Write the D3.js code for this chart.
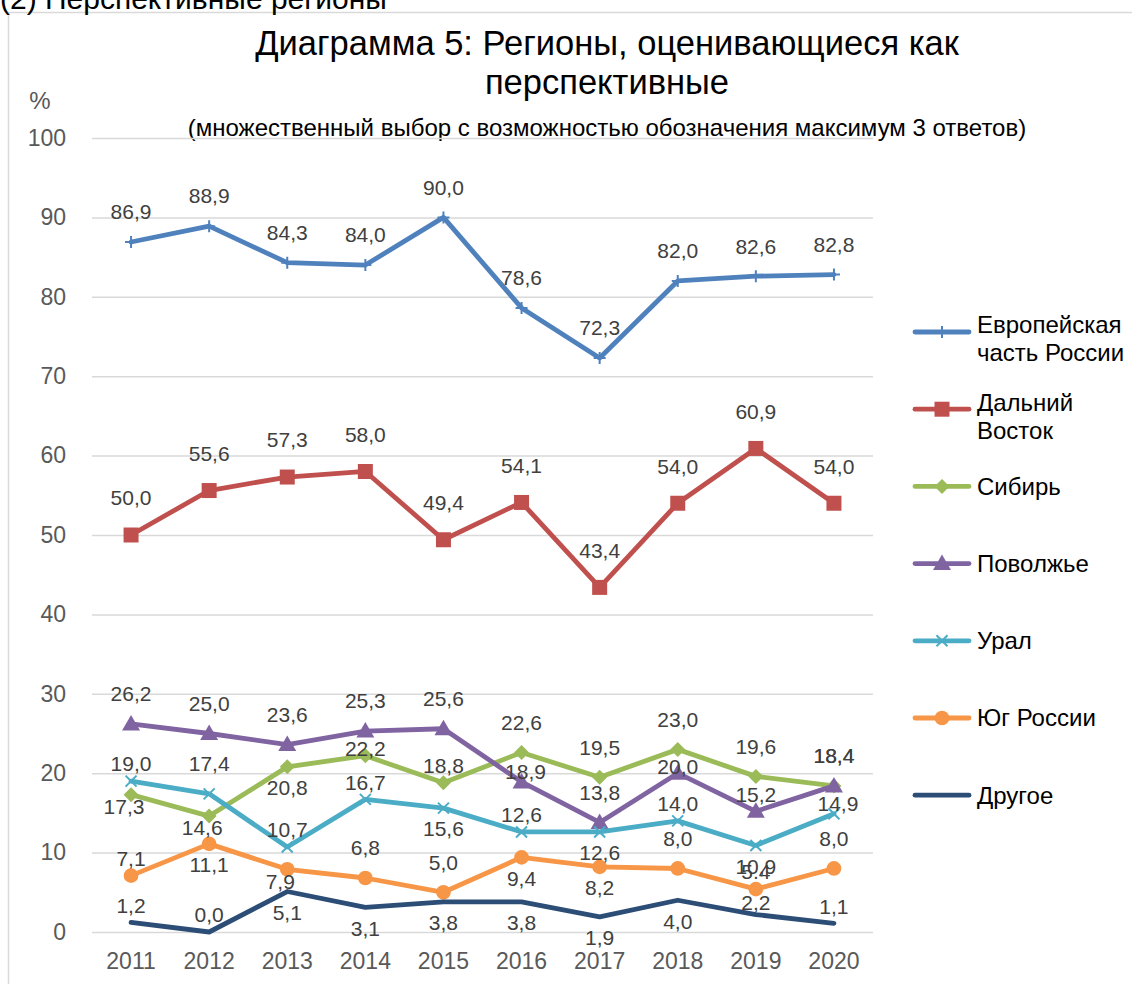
<!DOCTYPE html>
<html>
<head>
  <meta charset='utf-8'>
  <title>Диаграмма 5</title>
  <script src="https://cdnjs.cloudflare.com/ajax/libs/d3/7.8.5/d3.min.js"></script>
  <style>
    body { margin: 0; background: #fff; }
    svg text { font-family: 'Liberation Sans', Arial, sans-serif; }
    .tick text { fill: #595959; font-size: 23px; }
    .label { fill: #404040; font-size: 21px; text-anchor: middle; }
    .legend-text { fill: #000; font-size: 24px; }
  </style>
</head>
<body>
  <svg width="1132" height="984" id="chart"></svg>
  <script>
    const years = ['2011', '2012', '2013', '2014', '2015', '2016', '2017', '2018', '2019', '2020'];
    const yTicks = [0, 10, 20, 30, 40, 50, 60, 70, 80, 90, 100];

    const europe   = [86.9, 88.9, 84.3, 84.0, 90.0, 78.6, 72.3, 82.0, 82.6, 82.8];
    const farEast  = [50.0, 55.6, 57.3, 58.0, 49.4, 54.1, 43.4, 54.0, 60.9, 54.0];
    const siberia  = [17.3, 14.6, 20.8, 22.2, 18.8, 22.6, 19.5, 23.0, 19.6, 18.4];
    const volga    = [26.2, 25.0, 23.6, 25.3, 25.6, 18.9, 13.8, 20.0, 15.2, 18.4];
    const ural     = [19.0, 17.4, 10.7, 16.7, 15.6, 12.6, 12.6, 14.0, 10.9, 14.9];
    const south    = [7.1, 11.1, 7.9, 6.8, 5.0, 9.4, 8.2, 8.0, 5.4, 8.0];
    const other    = [1.2, 0.0, 5.1, 3.1, 3.8, 3.8, 1.9, 4.0, 2.2, 1.1];

    const series = [
      { name: ['Европейская', 'часть России'], values: europe,  color: '#4F81BD', marker: 'plus',     pos: 'aaaaaaaaaa' },
      { name: ['Дальний', 'Восток'],           values: farEast, color: '#C0504D', marker: 'square',   pos: 'AAAAAAAAAA' },
      { name: ['Сибирь'],                      values: siberia, color: '#9BBB59', marker: 'diamond',  pos: 'llbcuaaaaa' },
      { name: ['Поволжье'],                    values: volga,   color: '#8064A2', marker: 'triangle', pos: 'aaaaaracua' },
      { name: ['Урал'],                        values: ural,    color: '#4BACC6', marker: 'times',    pos: 'uauubububr' },
      { name: ['Юг России'],                   values: south,   color: '#F79646', marker: 'circle',   pos: 'ublaabbaua' },
      { name: ['Другое'],                      values: other,   color: '#2C4D75', marker: null,       pos: 'uubbbbbbvu' }
    ];

    // label offsets (text centre relative to the point)
    const offsets = {
      a: { dx: 0, dy: -30, anchor: 'middle' },
      A: { dx: 0, dy: -37, anchor: 'middle' },
      u: { dx: 0, dy: -17, anchor: 'middle' },
      v: { dx: 0, dy: -12, anchor: 'middle' },
      c: { dx: 0, dy: -7, anchor: 'middle' },
      b: { dx: 0, dy: 21, anchor: 'middle' },
      l: { dx: -7, dy: 12, anchor: 'end' },
      r: { dx: 4, dy: -10, anchor: 'start' }
    };

    const svg = d3.select('#chart');

    const x = d3.scaleBand().domain(years).range([92, 873]);
    const y = d3.scaleLinear().domain([0, 100]).range([932, 138]);
    const cx = d => x(d) + x.bandwidth() / 2;

    // frame + page header
    svg.append('path')
      .attr('d', 'M8.5,984V12.5H1132')
      .attr('fill', 'none')
      .attr('stroke', '#d9d9d9')
      .attr('stroke-width', 1.5);

    svg.append('text')
      .attr('x', 0).attr('y', 9)
      .attr('font-size', 30)
      .text('(2) Перспективные регионы');

    svg.append('text')
      .attr('x', 607).attr('y', 55)
      .attr('text-anchor', 'middle')
      .attr('font-size', 34.5)
      .text('Диаграмма 5: Регионы, оценивающиеся как');
    svg.append('text')
      .attr('x', 607).attr('y', 94)
      .attr('text-anchor', 'middle')
      .attr('font-size', 34.5)
      .text('перспективные');
    svg.append('text')
      .attr('x', 607).attr('y', 136)
      .attr('text-anchor', 'middle')
      .attr('font-size', 24)
      .text('(множественный выбор с возможностью обозначения максимум 3 ответов)');

    svg.append('text')
      .attr('x', 40).attr('y', 109)
      .attr('text-anchor', 'middle')
      .attr('font-size', 24)
      .attr('fill', '#595959')
      .text('%');

    // gridlines and y axis
    const yAxis = svg.append('g')
      .attr('transform', 'translate(92,0)')
      .call(d3.axisLeft(y).tickValues(yTicks).tickSize(-781).tickPadding(26));
    yAxis.select('.domain').remove();
    yAxis.selectAll('.tick line').attr('stroke', '#d9d9d9').attr('stroke-width', 1.5);

    const xAxis = svg.append('g')
      .attr('transform', 'translate(0,932)')
      .call(d3.axisBottom(x).tickSize(0).tickPadding(21));
    xAxis.select('.domain').remove();

    const line = d3.line()
      .x((d, i) => cx(years[i]))
      .y(d => y(d));

    const markerPath = {
      plus: 'M-6,0H6M0,-6V6',
      times: 'M-5.5,-5.5L5.5,5.5M-5.5,5.5L5.5,-5.5',
      square: 'M-7.5,-7.5H7.5V7.5H-7.5Z',
      diamond: 'M0,-7.5L7.5,0L0,7.5L-7.5,0Z',
      triangle: 'M0,-9L9,6.5H-9Z',
      circle: d3.symbol(d3.symbolCircle, 170)()
    };
    const strokeMarker = m => m === 'plus' || m === 'times';

    series.forEach(s => {
      const g = svg.append('g');
      g.append('path')
        .datum(s.values)
        .attr('d', line)
        .attr('fill', 'none')
        .attr('stroke', s.color)
        .attr('stroke-width', 4.8)
        .attr('stroke-linejoin', 'round')
        .attr('stroke-linecap', 'round');
      if (s.marker) {
        g.selectAll('.m')
          .data(s.values)
          .join('path')
          .attr('transform', (d, i) => `translate(${cx(years[i])},${y(d)})`)
          .attr('d', markerPath[s.marker])
          .attr('fill', strokeMarker(s.marker) ? 'none' : s.color)
          .attr('stroke', s.color)
          .attr('stroke-width', strokeMarker(s.marker) ? 2 : 0);
      }
    });

    // data labels
    series.forEach(s => {
      svg.append('g')
        .selectAll('text')
        .data(s.values)
        .join('text')
        .attr('class', 'label')
        .each(function (d, i) {
          const o = offsets[s.pos[i]];
          let txt = d.toFixed(1).replace('.', ',');
          if (s.values === south && years[i] === '2019') txt = d.toFixed(1);
          d3.select(this)
            .attr('x', cx(years[i]) + o.dx)
            .attr('y', y(d) + o.dy)
            .attr('dy', '0.35em')
            .attr('text-anchor', o.anchor)
            .text(txt);
        });
    });

    // legend
    const legend = svg.append('g');
    series.forEach((s, i) => {
      const ly = 332 + i * 77.2;
      const item = legend.append('g').attr('transform', `translate(0,${ly})`);
      item.append('line')
        .attr('x1', 915).attr('x2', 969)
        .attr('stroke', s.color)
        .attr('stroke-width', 4.8)
        .attr('stroke-linecap', 'round');
      if (s.marker) {
        item.append('path')
          .attr('transform', 'translate(942,0)')
          .attr('d', markerPath[s.marker])
          .attr('fill', strokeMarker(s.marker) ? 'none' : s.color)
          .attr('stroke', s.color)
          .attr('stroke-width', strokeMarker(s.marker) ? 2 : 0);
      }
      const top = s.name.length > 1 ? -7 : 0;
      s.name.forEach((t, k) => {
        item.append('text')
          .attr('class', 'legend-text')
          .attr('x', 977)
          .attr('y', top + k * 28)
          .attr('dy', '0.35em')
          .text(t);
      });
    });
  </script>
</body>
</html>
